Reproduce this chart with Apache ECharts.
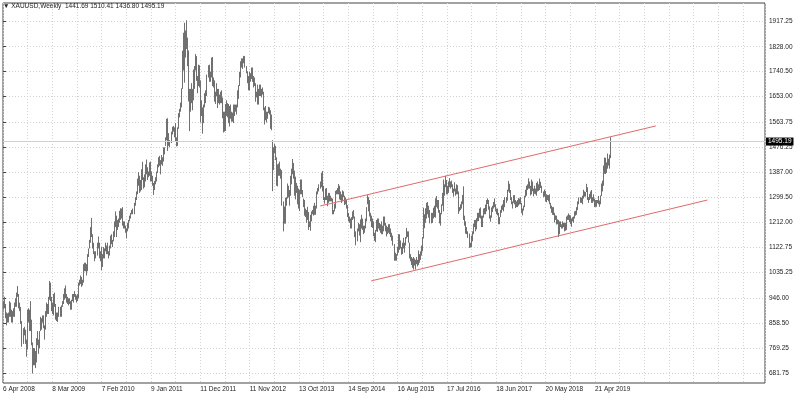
<!DOCTYPE html>
<html><head><meta charset="utf-8">
<script src="https://cdn.jsdelivr.net/npm/echarts@6/dist/echarts.min.js"></script>
<style>html,body{margin:0;padding:0;background:#fff}#c{width:799px;height:397px}</style>
</head><body><div id="c"></div>
<script>
// Weekly [low, high] per week (weeks starting Sunday)
const w2008 = [[905,935],[910,950],[875,925],[850,895],
[860,892],[860,895],[880,935],[880,930],
[860,905],[860,900],[880,910],[880,930],[915,945],
[915,965],[950,988],[910,960],[900,930],
[855,915],[775,865],[785,840],[815,845],[785,835],
[740,800],[765,905],[860,910],[830,905],
[830,935],[780,870],[681,790],[710,770],
[710,770],[700,760],[720,805],[780,830],[750,800],
[770,830],[830,880],[835,875],[860,885]];
const w2009 = [[840,885],[800,850],[835,900],[880,930],
[890,925],[890,950],[940,1006],[935,1000],
[900,950],[890,930],[885,960],[915,965],[870,925],
[865,895],[862,895],[880,915],[880,915],
[880,920],[915,935],[925,960],[940,980],[945,990],
[930,960],[925,950],[920,945],[925,945],
[905,935],[905,940],[935,960],[930,960],
[950,970],[940,960],[930,955],[935,960],[945,1000],
[990,1010],[995,1025],[985,1020],[990,1010],
[1000,1065],[1040,1070],[1040,1070],[1025,1065],
[1040,1100],[1090,1120],[1120,1150],[1140,1195],[1160,1227],
[1120,1170],[1100,1140],[1075,1110],[1085,1110]];
const w2010 = [[1095,1140],[1120,1162],[1085,1140],[1075,1110],[1044,1125],
[1055,1100],[1085,1125],[1085,1120],[1110,1140],
[1100,1130],[1100,1140],[1085,1110],[1095,1130],
[1120,1165],[1135,1170],[1125,1150],[1145,1180],
[1160,1215],[1195,1250],[1160,1235],[1185,1220],[1195,1225],
[1210,1252],[1220,1261],[1225,1260],[1200,1265],
[1190,1215],[1190,1215],[1175,1200],[1155,1190],
[1180,1210],[1190,1220],[1215,1235],[1225,1245],[1240,1255],
[1240,1260],[1240,1280],[1270,1300],[1290,1320],
[1310,1365],[1340,1388],[1315,1375],[1320,1360],[1325,1398],
[1360,1424],[1330,1370],[1335,1380],[1355,1415],
[1380,1432],[1360,1405],[1370,1390],[1375,1422]];
const w2011 = [[1355,1425],[1355,1390],[1340,1375],[1308,1350],[1325,1357],
[1345,1370],[1355,1390],[1385,1415],[1405,1440],
[1410,1445],[1380,1430],[1415,1448],[1410,1440],
[1425,1475],[1450,1475],[1480,1510],[1500,1575],
[1462,1577],[1480,1525],[1475,1500],[1490,1530],[1520,1547],
[1530,1550],[1510,1545],[1495,1560],[1478,1510],
[1480,1545],[1540,1595],[1580,1610],[1600,1632],[1615,1682],
[1680,1814],[1745,1877],[1702,1912],[1790,1885],
[1820,1921],[1760,1860],[1636,1815],[1532,1680],
[1600,1680],[1630,1700],[1605,1680],[1640,1748],[1680,1760],
[1745,1802],[1708,1795],[1665,1725],[1690,1765],
[1685,1763],[1562,1710],[1585,1640],[1523,1615]];
const w2012 = [[1560,1625],[1615,1665],[1630,1675],[1655,1730],[1720,1763],
[1705,1765],[1705,1740],[1720,1790],[1690,1792],
[1685,1720],[1635,1710],[1627,1670],[1655,1700],
[1613,1680],[1630,1680],[1625,1660],[1630,1670],[1630,1675],
[1577,1650],[1527,1600],[1530,1600],[1532,1627],
[1585,1640],[1580,1630],[1560,1627],[1548,1620],
[1575,1625],[1565,1600],[1565,1597],[1560,1625],[1585,1625],
[1600,1625],[1590,1625],[1615,1675],[1645,1693],
[1690,1740],[1720,1777],[1755,1787],[1750,1787],[1770,1796],
[1755,1795],[1735,1760],[1700,1742],[1675,1725],
[1675,1740],[1705,1735],[1715,1755],[1705,1755],
[1685,1725],[1690,1720],[1635,1700],[1650,1670],[1625,1695]];
const w2013 = [[1625,1680],[1655,1695],[1655,1695],[1650,1680],
[1660,1685],[1605,1670],[1555,1615],[1570,1620],
[1562,1600],[1575,1600],[1595,1617],[1590,1615],[1540,1605],
[1535,1590],[1321,1500],[1395,1475],[1455,1488],
[1430,1480],[1340,1440],[1338,1415],[1375,1418],
[1375,1425],[1365,1400],[1270,1395],[1180,1285],[1207,1267],
[1207,1297],[1270,1300],[1295,1348],[1300,1340],
[1270,1325],[1305,1375],[1345,1400],[1380,1434],
[1365,1420],[1305,1393],[1292,1372],[1315,1350],[1275,1340],
[1260,1330],[1251,1325],[1310,1362],[1310,1362],
[1300,1325],[1265,1295],[1235,1290],[1230,1260],
[1210,1255],[1220,1266],[1185,1248],[1195,1215],[1182,1238]];
const w2014 = [[1215,1250],[1240,1255],[1235,1270],[1238,1280],
[1238,1270],[1260,1320],[1310,1332],[1320,1345],
[1330,1355],[1335,1385],[1320,1392],[1290,1340],[1277,1300],
[1290,1330],[1290,1332],[1268,1305],[1280,1315],
[1285,1315],[1285,1305],[1285,1298],[1240,1295],
[1240,1255],[1250,1277],[1260,1322],[1310,1325],[1310,1332],
[1310,1346],[1292,1340],[1290,1320],[1280,1310],
[1285,1324],[1300,1320],[1272,1305],[1275,1298],[1260,1290],
[1230,1272],[1215,1245],[1210,1232],[1190,1225],
[1190,1230],[1220,1250],[1225,1255],[1160,1232],
[1131,1180],[1145,1190],[1180,1210],[1165,1205],[1142,1222],
[1190,1238],[1185,1225],[1170,1200],[1175,1200]];
const w2015 = [[1190,1225],[1215,1265],[1275,1307],[1250,1300],
[1232,1290],[1215,1245],[1195,1235],[1192,1225],
[1163,1215],[1147,1175],[1142,1185],[1180,1220],[1178,1225],
[1190,1225],[1183,1210],[1175,1205],[1170,1215],
[1170,1200],[1180,1232],[1200,1232],[1180,1210],[1162,1200],
[1170,1195],[1175,1205],[1170,1205],[1160,1190],
[1147,1175],[1130,1165],[1077,1135],[1077,1105],
[1077,1100],[1095,1125],[1105,1170],[1115,1170],[1120,1148],
[1098,1125],[1100,1140],[1120,1157],[1105,1140],
[1130,1160],[1155,1192],[1160,1180],[1140,1180],
[1085,1140],[1075,1100],[1062,1090],[1052,1085],[1046,1090],
[1060,1085],[1046,1080],[1065,1090],[1057,1080]];
const w2016 = [[1062,1113],[1070,1100],[1080,1110],[1095,1130],[1110,1160],
[1155,1263],[1191,1240],[1210,1261],[1225,1280],
[1240,1283],[1228,1270],[1208,1255],[1208,1245],
[1210,1245],[1225,1263],[1230,1270],[1228,1296],
[1265,1304],[1260,1290],[1245,1290],[1208,1255],[1200,1245],
[1240,1275],[1270,1315],[1250,1362],[1305,1345],
[1335,1375],[1310,1360],[1310,1340],[1315,1355],[1335,1367],
[1330,1355],[1335,1358],[1315,1345],[1302,1330],
[1320,1352],[1305,1330],[1310,1345],[1310,1342],
[1241,1320],[1250,1265],[1255,1275],[1260,1285],[1275,1308],
[1220,1338],[1200,1235],[1172,1215],[1170,1195],
[1157,1180],[1122,1172],[1123,1140],[1125,1165]];
const w2017 = [[1145,1180],[1170,1207],[1195,1220],[1180,1220],[1187,1226],
[1215,1245],[1216,1245],[1228,1260],[1225,1264],
[1195,1235],[1195,1235],[1228,1260],[1240,1262],
[1240,1274],[1250,1290],[1276,1296],[1256,1290],[1225,1268],
[1214,1236],[1228,1264],[1248,1270],[1260,1283],
[1265,1296],[1250,1275],[1240,1260],[1236,1260],
[1205,1245],[1205,1230],[1230,1255],[1245,1270],[1255,1275],
[1250,1290],[1265,1300],[1280,1300],[1288,1326],
[1320,1357],[1315,1347],[1290,1325],[1275,1300],
[1260,1285],[1280,1307],[1275,1307],[1262,1290],[1265,1285],
[1265,1290],[1270,1297],[1275,1295],[1275,1300],
[1245,1280],[1236,1260],[1253,1270],[1265,1305],[1300,1326]];
const w2018 = [[1305,1340],[1325,1345],[1330,1366],[1330,1355],
[1306,1340],[1310,1362],[1321,1355],[1303,1330],
[1312,1340],[1310,1330],[1305,1350],[1320,1355],
[1322,1345],[1325,1365],[1332,1354],[1315,1340],[1300,1320],
[1302,1327],[1285,1322],[1282,1310],[1290,1308],
[1285,1307],[1275,1310],[1260,1280],[1245,1270],
[1238,1265],[1237,1265],[1211,1245],[1220,1236],[1204,1235],
[1205,1222],[1160,1220],[1170,1215],[1195,1215],
[1190,1205],[1190,1215],[1195,1210],[1180,1210],[1182,1210],
[1185,1232],[1220,1236],[1220,1243],[1212,1238],
[1205,1236],[1196,1225],[1215,1230],[1210,1232],
[1225,1250],[1235,1252],[1238,1265],[1255,1285],[1275,1299]];
const w2019 = [[1280,1300],[1280,1298],[1275,1305],[1295,1326],
[1302,1320],[1302,1318],[1318,1347],[1290,1335],
[1280,1300],[1290,1311],[1295,1320],[1280,1325],[1280,1300],
[1285,1310],[1265,1295],[1266,1290],[1266,1290],
[1279,1290],[1275,1304],[1266,1288],[1275,1306],
[1304,1348],[1320,1358],[1340,1411],[1382,1439],[1381,1438],
[1385,1422],[1400,1453],[1411,1435],[1400,1449],
[1436.80,1510.41]];

// Last bar OHLC (header)
const lastBar = [1441.69, 1510.41, 1436.80, 1495.19];
// Price-axis tick labels
const yTickValues = [681.75, 769.25, 858.5, 946, 1035.25, 1122.75, 1212, 1299.5, 1387, 1476.25, 1563.75, 1653, 1740.5, 1828, 1917.25];
// Date-axis tick labels (every 48 weeks from the first bar)
const xTickLabels = ['6 Apr 2008','8 Mar 2009','7 Feb 2010','9 Jan 2011','11 Dec 2011','11 Nov 2012','13 Oct 2013','14 Sep 2014','16 Aug 2015','17 Jul 2016','18 Jun 2017','20 May 2018','21 Apr 2019'];
// Channel trend lines [barIndex, price]
const channelUpper = [[308.7,1269],[635.3,1550]];
const channelLower = [[358.3,1006],[685.5,1290]];

const ranges = [].concat(w2008,w2009,w2010,w2011,w2012,w2013,w2014,w2015,w2016,w2017,w2018,w2019);
const barData = ranges.map((r,i)=>[i, r[0], r[1]]);
const FONT = 'Liberation Sans, Arial, sans-serif';

const chart = echarts.init(document.getElementById('c'), null, {renderer:'canvas'});
chart.setOption({
  animation:false,
  backgroundColor:'#ffffff',
  title:{
    text:'▼ XAUUSD,Weekly  ' + lastBar.map(v=>v.toFixed(2)).join(' '),
    left:3, top:3, padding:0,
    textStyle:{fontSize:6.5, fontWeight:'normal', color:'#222', fontFamily:FONT}
  },
  grid:{left:2, right:34, top:3, bottom:14, show:true, borderColor:'#444', borderWidth:1, backgroundColor:'transparent'},
  xAxis:{
    type:'value', min:0, max:741.5, interval:24,
    axisLine:{show:false},
    axisTick:{show:false},
    splitLine:{show:true, lineStyle:{color:'#d2d2d2', type:[1,2], width:1}},
    axisLabel:{
      show:true, align:'left', margin:3, fontSize:6.5, color:'#222', fontFamily:FONT,
      hideOverlap:false, showMinLabel:true, showMaxLabel:true,
      formatter:function(v){
        if (v % 48 === 0 && v/48 < xTickLabels.length) return xTickLabels[v/48];
        return '';
      }
    }
  },
  yAxis:{
    type:'value', position:'right', min:647.7, max:1981.5, scale:true,
    axisLine:{show:false},
    axisTick:{show:true, length:3, lineStyle:{color:'#444'}, customValues:yTickValues},
    splitLine:{show:true, lineStyle:{color:'#d2d2d2', type:[1,2], width:1}},
    axisLabel:{
      customValues:yTickValues, align:'left', margin:4, fontSize:6.5, color:'#222', fontFamily:FONT,
      hideOverlap:false,
      formatter:function(v){ return Number(v).toFixed(2); }
    }
  },
  series:[
    {
      type:'custom', name:'XAUUSD', data:barData, encode:{x:0, y:[1,2]}, clip:true,
      renderItem:function(params, api){
        const p1 = api.coord([api.value(0), api.value(1)]);
        const p2 = api.coord([api.value(0), api.value(2)]);
        const x = Math.round(p1[0]) + 0.5;
        return {type:'line', shape:{x1:x, y1:p1[1], x2:x, y2:p2[1]},
                style:{stroke:'#707070', lineWidth:1}};
      },
      markLine:{
        silent:true, symbol:['none','none'],
        lineStyle:{color:'#d0d0d0', type:'solid', width:1},
        label:{show:true, position:'end', distance:1, formatter:function(){return lastBar[3].toFixed(2);},
               backgroundColor:'#000', color:'#fff', fontSize:6.5, fontFamily:FONT, padding:[1,2,0,2]},
        data:[{yAxis:lastBar[3]}]
      }
    },
    {type:'line', data:channelUpper, symbol:'none', lineStyle:{color:'#e06a6a', width:1}, z:5},
    {type:'line', data:channelLower, symbol:'none', lineStyle:{color:'#e06a6a', width:1}, z:5}
  ]
});
</script>
</body></html>
